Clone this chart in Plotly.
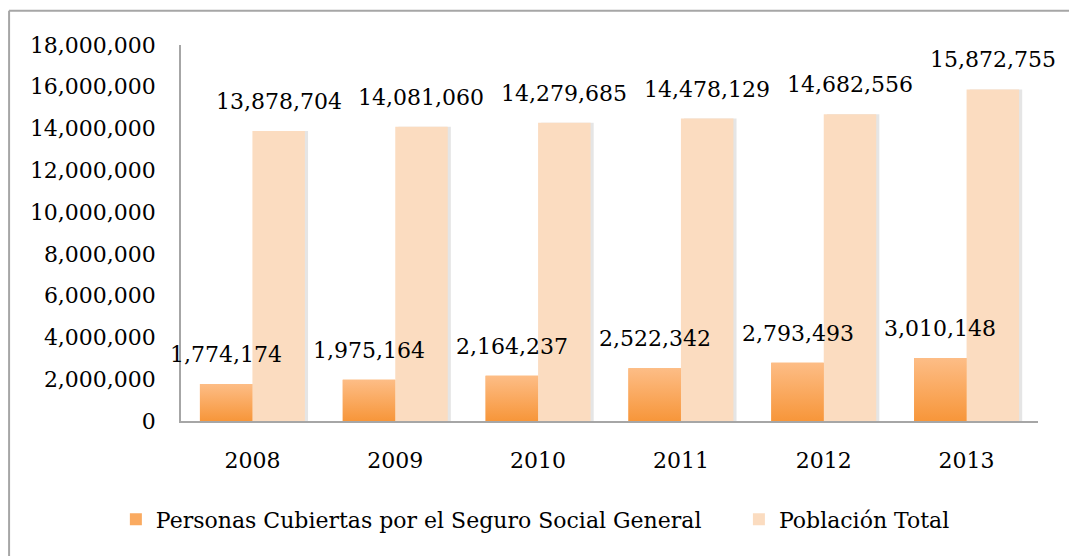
import plotly.graph_objects as go

years = ["2008", "2009", "2010", "2011", "2012", "2013"]
cubiertas = [1774174, 1975164, 2164237, 2522342, 2793493, 3010148]
poblacion = [13878704, 14081060, 14279685, 14478129, 14682556, 15872755]
y_ticks = [0, 2000000, 4000000, 6000000, 8000000, 10000000, 12000000, 14000000, 16000000, 18000000]

FONT = "DejaVu Serif"
FS = 22
BW = 0.3675            # width of one bar, in category units
PLOT_W = 1069 - 181 - 31
HALF = PLOT_W / len(years) * BW / 2  # half bar width, px
ORANGE_TOP, ORANGE_BOT = "#FDBD86", "#F7963A"
PEACH = "#FBDCC0"

fig = go.Figure()
# soft shadow behind the peach bars
fig.add_trace(go.Bar(
    x=years, y=poblacion, offset=0.022, width=BW, showlegend=False, hoverinfo="skip",
    marker=dict(color="rgba(0,0,0,0.10)", line=dict(width=0)),
))
fig.add_trace(go.Bar(
    x=years, y=cubiertas, name="Personas Cubiertas por el Seguro Social General",
    offset=-BW, width=BW,
    marker=dict(color="#FAAA60", line=dict(width=0)), legend="legend",
))
fig.add_trace(go.Bar(
    x=years, y=poblacion, name="Población Total", offset=0, width=BW,
    marker=dict(color=PEACH, line=dict(width=0)), legend="legend2",
))

# vertical gradient on each orange bar (drawn on an overlaid numeric axis)
for i, v in enumerate(cubiertas):
    fig.add_trace(go.Scatter(
        x=[i - BW, i, i, i - BW, i - BW], y=[0, 0, v, v, 0], xaxis="x2",
        mode="none", fill="toself", showlegend=False, hoverinfo="skip",
        fillgradient=dict(type="vertical", colorscale=[[0, ORANGE_BOT], [1, ORANGE_TOP]]),
    ))

annotations = []
for i, v in enumerate(cubiertas):
    annotations.append(dict(x=i, y=v, xref="x", yref="y", text=f"{v:,}", showarrow=False,
                            xshift=-HALF, yshift=15, yanchor="bottom",
                            font=dict(family=FONT, size=FS, color="#000000")))
for i, v in enumerate(poblacion):
    annotations.append(dict(x=i, y=v, xref="x", yref="y", text=f"{v:,}", showarrow=False,
                            xshift=HALF, yshift=15, yanchor="bottom",
                            font=dict(family=FONT, size=FS, color="#000000")))

fig.update_layout(
    width=1069, height=556,
    margin=dict(l=181, r=31, t=45, b=135, autoexpand=False),
    paper_bgcolor="white", plot_bgcolor="white",
    font=dict(family=FONT, size=FS, color="#000000"),
    barmode="overlay",
    showlegend=True,
    legend=dict(orientation="h", x=-0.076, xanchor="left", y=-0.206, yanchor="top",
                font=dict(family=FONT, size=FS), bgcolor="rgba(0,0,0,0)"),
    legend2=dict(orientation="h", x=0.651, xanchor="left", y=-0.206, yanchor="top",
                 font=dict(family=FONT, size=FS), bgcolor="rgba(0,0,0,0)"),
    xaxis=dict(type="category", categoryorder="array", categoryarray=years,
               range=[-0.5, len(years) - 0.5], showline=True, linecolor="#A6A6A6",
               linewidth=1.5, ticks="", showgrid=False, ticklabelstandoff=19,
               tickfont=dict(family=FONT, size=FS)),
    xaxis2=dict(type="linear", overlaying="x", range=[-0.5, len(years) - 0.5],
                visible=False, showgrid=False, zeroline=False),
    yaxis=dict(range=[0, 18000000], tickvals=y_ticks, tickformat=",d",
               showline=True, linecolor="#A6A6A6", linewidth=1.5, showgrid=False,
               zeroline=False, ticks="", ticklabelstandoff=19,
               tickfont=dict(family=FONT, size=FS)),
    annotations=annotations,
    shapes=[
        dict(type="line", xref="paper", yref="paper", x0=-0.2006, x1=1.05, y0=1.091, y1=1.091,
             line=dict(color="#A6A6A6", width=2)),
        dict(type="line", xref="paper", yref="paper", x0=-0.2006, x1=-0.2006, y0=1.091, y1=-0.4,
             line=dict(color="#A6A6A6", width=2)),
    ],
)

fig.write_html("out.html", config={"displayModeBar": False},
               post_script="document.body.style.margin='0';")
